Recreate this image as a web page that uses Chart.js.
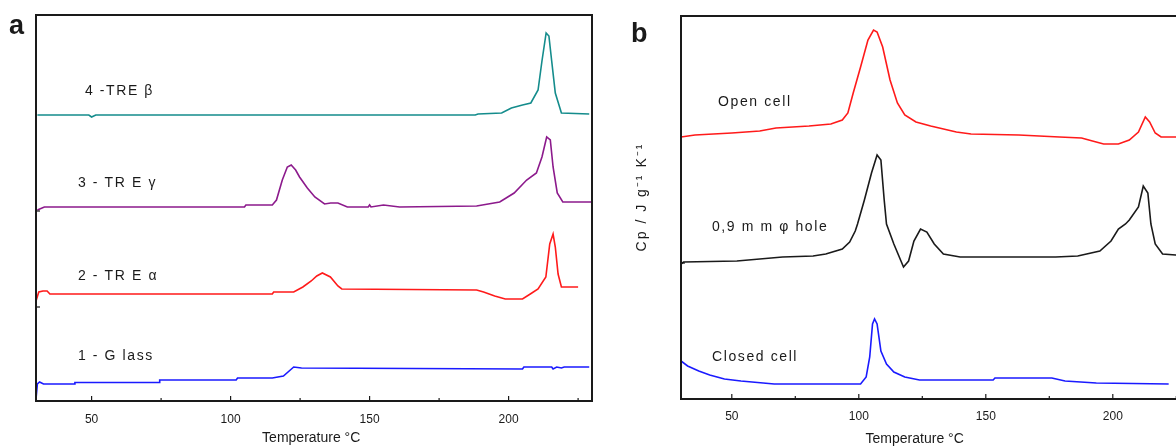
<!DOCTYPE html>
<html>
<head>
<meta charset="utf-8">
<script src="https://cdn.jsdelivr.net/npm/chart.js@4/dist/chart.umd.min.js"></script>
<style>
    html, body { margin: 0; padding: 0; background: #fff; overflow: hidden; width: 1176px; height: 448px; }
    canvas { position: absolute; top: 0; }
    #chartA { left: 0; }
    #chartB { left: 600px; }
</style>
</head>
<body>
<canvas id="chartA" width="600" height="448"></canvas>
<canvas id="chartB" width="600" height="448"></canvas>
<script>
// tick labels shared by both panels
const tickValues = [50, 100, 150, 200];

// panel a : DSC traces of trehalose forms (arbitrary Cp units, stacked)
const glassT = [30, 30.5, 31.3, 32.7, 43.8, 44, 74.3, 74.5, 102, 102.5, 115, 119, 122.7, 125.5, 205, 205.5, 215.5, 216, 217.3, 219, 220, 229];
const glassCp = [2, 17, 19, 17, 17, 18.5, 18.5, 21, 21, 23, 23, 25, 34, 33, 32, 34, 34, 32, 34, 33, 34, 34];

const alphaT = [30, 31, 32.5, 34, 35, 115, 115.5, 122.7, 126, 129, 131, 133, 135.9, 138.6, 140, 188.5, 191, 195, 198.8, 205, 207.8, 210.6, 213.4, 214.8, 216, 216.8, 217.8, 219, 225];
const alphaCp = [100, 109, 110, 110, 107, 107, 109, 109, 114, 120, 125, 128, 124, 115, 112, 111, 109, 105, 102, 102, 107, 112, 124, 157, 167, 154, 127, 114, 114];

const gammaT = [30.5, 33, 105, 105.5, 115, 116.5, 118.6, 120.4, 121.8, 123.4, 124.8, 127.6, 130.3, 133.8, 136, 138.6, 142, 149.5, 150, 150.5, 155, 160.8, 188.5, 196.8, 202, 206.5, 210, 212, 213.7, 215, 216, 217.5, 219.5, 230];
const gammaCp = [191, 194, 194, 196, 196, 201, 221, 234, 236, 231, 224, 213, 204, 197, 198, 198, 194, 194, 196, 194, 196, 194, 195, 199, 208, 221, 228, 244, 264, 261, 234, 208, 199, 199];

const betaT = [30.5, 49, 50, 51.5, 188, 189, 197.5, 201, 205, 208, 210.6, 212, 213.5, 214.5, 215.5, 216.8, 219, 229];
const betaCp = [286, 286, 284, 286, 286, 287, 288, 293, 296, 298, 311, 340, 368, 365, 340, 308, 288, 287];

const labelsA = ["4 -TRE β", "3 - TR E γ", "2 - TR E α", "1 - G lass"];

// panel b : cell type comparison
const openT = [30, 35.5, 50, 61, 67.4, 80.4, 89, 93.5, 95.7, 97.8, 100.7, 103.6, 105.8, 107.2, 109.4, 112.3, 115.2, 118.1, 122.5, 128.3, 138.4, 144.2, 163, 179, 187.7, 192, 196.4, 202.2, 206.5, 210.1, 212.8, 214.5, 216.7, 219, 230];
const openCp = [262, 264, 266, 268, 271, 273, 275, 279, 286, 306, 332, 359, 369, 367, 352, 319, 296, 284, 277, 273, 267, 265, 264, 262, 261, 258, 255, 255, 259, 267, 282, 277, 266, 262, 262];

const holeT = [30, 31, 52, 70, 82, 87, 93.5, 96.4, 98.6, 99.5, 102.2, 105, 107.2, 108.7, 110, 110.9, 113.8, 117.6, 119.6, 121.7, 124.3, 126.8, 129.7, 133.3, 139.9, 177.5, 186.2, 194.9, 199.3, 202.2, 205, 206.5, 210.1, 212, 213.8, 215, 216.7, 219.6, 230];
const holeCp = [135, 137, 138, 142, 143, 145, 150, 157, 168, 175, 199, 226, 244, 239, 199, 175, 155, 132, 138, 158, 170, 167, 155, 145, 142, 142, 143, 148, 158, 170, 175, 179, 192, 213, 206, 175, 155, 145, 143];

const closedT = [30, 32.6, 37, 41.3, 47.1, 53.6, 66.7, 100.7, 102.9, 104.3, 105.4, 106.2, 107.2, 108.7, 110.9, 113.8, 118.1, 123.9, 152.9, 153.6, 176, 181.2, 193.5, 222];
const closedCp = [38, 33, 28, 24, 20, 18, 15, 15, 22, 42, 75, 80, 75, 48, 35, 27, 22, 19, 19, 21, 21, 18, 16, 15];

const labelsB = ["Open cell", "0,9 m m φ hole", "Closed cell"];

const FONT = "'Liberation Sans', Arial, sans-serif";

function toPoints(xs, ys) {
    return xs.map((x, i) => ({ x: x, y: ys[i] }));
}

function line(xs, ys, color) {
    return {
        data: toPoints(xs, ys),
        borderColor: color,
        borderWidth: 1.6,
        pointRadius: 0,
        tension: 0,
        fill: false,
    };
}

// draws the box, inward ticks, curve labels, panel letter and titles
const decorations = {
    id: "decorations",
    afterDraw(chart, args, opts) {
        const ctx = chart.ctx;
        const area = chart.chartArea;
        const xs = chart.scales.x;
        const ys = chart.scales.y;
        ctx.save();
        ctx.strokeStyle = "#1a1a1a";
        ctx.lineWidth = 2;
        ctx.strokeRect(area.left, area.top, area.right - area.left, area.bottom - area.top);

        ctx.lineWidth = 1.2;
        for (let t = 50; t <= 225; t += 25) {
            const px = xs.getPixelForValue(t);
            const len = t % 50 === 0 ? 5 : 3;
            ctx.beginPath();
            ctx.moveTo(px, area.bottom);
            ctx.lineTo(px, area.bottom - len);
            ctx.stroke();
        }
        opts.sideMarks.forEach((v) => {
            const py = ys.getPixelForValue(v);
            ctx.beginPath();
            ctx.moveTo(area.left, py);
            ctx.lineTo(area.left + 4, py);
            ctx.stroke();
        });

        ctx.fillStyle = "#1a1a1a";
        ctx.font = "14px " + FONT;
        ctx.letterSpacing = "1.6px";
        ctx.textBaseline = "middle";
        ctx.textAlign = "left";
        opts.labels.forEach((lab) => {
            ctx.fillText(lab.text, xs.getPixelForValue(lab.x), ys.getPixelForValue(lab.y));
        });
        ctx.letterSpacing = "0px";

        ctx.font = "14px " + FONT;
        ctx.textAlign = "center";
        ctx.fillText("Temperature °C", xs.getPixelForValue(opts.titleX), opts.titleY);

        ctx.font = "bold 27px " + FONT;
        ctx.textAlign = "left";
        ctx.textBaseline = "alphabetic";
        ctx.fillText(opts.letter.text, opts.letter.x, opts.letter.y);

        if (opts.yTitle) {
            ctx.translate(opts.yTitle.x, opts.yTitle.y);
            ctx.rotate(-Math.PI / 2);
            ctx.font = "14px " + FONT;
            ctx.letterSpacing = "2px";
            ctx.textAlign = "center";
            ctx.textBaseline = "middle";
            ctx.fillText(opts.yTitle.text, 0, 0);
        }
        ctx.restore();
    },
};

function makeChart(id, datasets, cfg) {
    return new Chart(document.getElementById(id), {
        type: "line",
        data: { datasets: datasets },
        plugins: [decorations],
        options: {
            responsive: false,
            animation: false,
            layout: { padding: { top: cfg.top, right: cfg.right, left: 0, bottom: 0 } },
            plugins: {
                legend: { display: false },
                tooltip: { enabled: false },
                decorations: cfg.deco,
            },
            scales: {
                x: {
                    type: "linear",
                    min: 30,
                    max: 230,
                    grid: { display: false },
                    border: { display: false },
                    afterBuildTicks: (s) => {
                        s.ticks = tickValues.map((v) => ({ value: v }));
                    },
                    afterFit: (s) => {
                        s.height = cfg.xHeight;
                    },
                    ticks: {
                        color: "#1a1a1a",
                        padding: cfg.tickPad,
                        maxRotation: 0,
                        font: { family: FONT, size: 12 },
                    },
                },
                y: {
                    type: "linear",
                    min: 0,
                    max: cfg.yMax,
                    grid: { display: false },
                    border: { display: false },
                    ticks: { display: false },
                    afterFit: (s) => {
                        s.width = cfg.yWidth;
                    },
                },
            },
        },
    });
}

makeChart(
    "chartA",
    [
        line(betaT, betaCp, "#148c8c"),
        line(gammaT, gammaCp, "#8c1a8c"),
        line(alphaT, alphaCp, "#ff1a1a"),
        line(glassT, glassCp, "#1a1aff"),
    ],
    {
        top: 15, right: 8, xHeight: 47, yWidth: 36, yMax: 386, tickPad: 3,
        deco: {
            labels: [
                { text: labelsA[0], x: 47.6, y: 310 },
                { text: labelsA[1], x: 45.1, y: 218 },
                { text: labelsA[2], x: 45.1, y: 125 },
                { text: labelsA[3], x: 45.1, y: 45 },
            ],
            sideMarks: [190, 94],
            titleX: 129,
            titleY: 438,
            letter: { text: "a", x: 9, y: 34 },
        },
    }
);

makeChart(
    "chartB",
    [
        line(openT, openCp, "#ff1a1a"),
        line(holeT, holeCp, "#1a1a1a"),
        line(closedT, closedCp, "#1a1aff"),
    ],
    {
        top: 16, right: 11, xHeight: 49, yWidth: 81, yMax: 383, tickPad: 2,
        deco: {
            labels: [
                { text: labelsB[0], x: 44.6, y: 297 },
                { text: labelsB[1], x: 42.2, y: 172 },
                { text: labelsB[2], x: 42.2, y: 42 },
            ],
            sideMarks: [136],
            titleX: 122,
            titleY: 439,
            letter: { text: "b", x: 31, y: 42 },
            yTitle: { text: "Cp / J g⁻¹ K⁻¹", x: 42, y: 197 },
        },
    }
);
</script>
</body>
</html>
